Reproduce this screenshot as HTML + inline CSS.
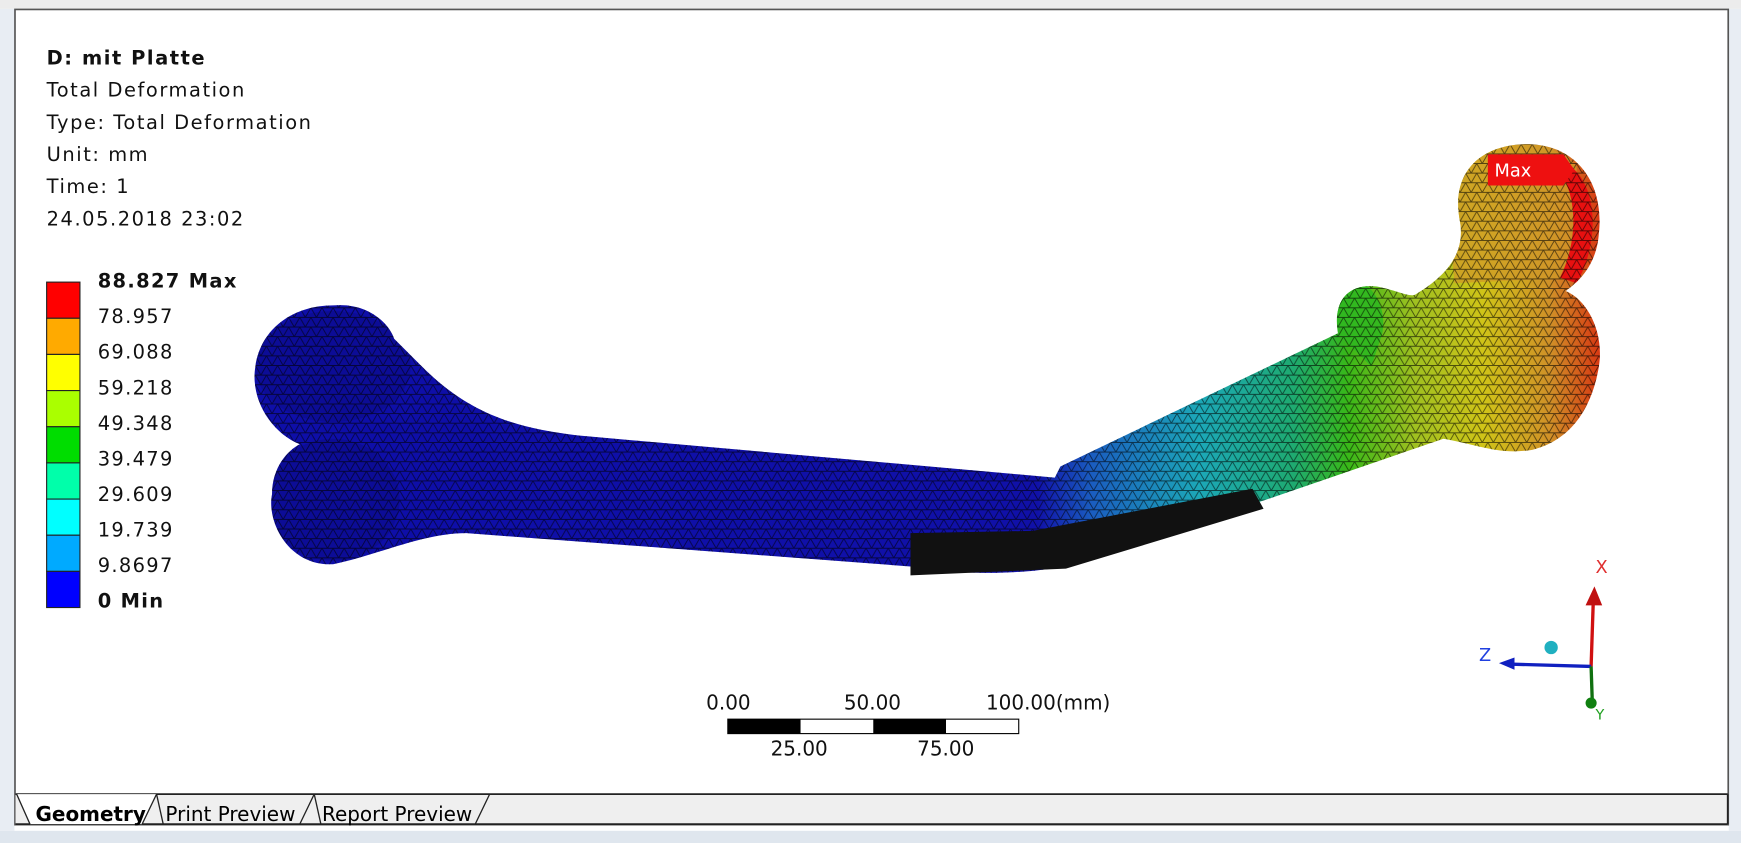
<!DOCTYPE html>
<html><head><meta charset="utf-8">
<style>
html,body{margin:0;padding:0;background:#fff;width:1741px;height:843px;overflow:hidden}
svg{display:block}
text{font-family:"DejaVu Sans","Liberation Sans",sans-serif}
</style></head>
<body>
<svg width="1741" height="843" viewBox="0 0 1568 759" preserveAspectRatio="none">
<defs>
 <linearGradient id="boneGrad" gradientUnits="userSpaceOnUse" x1="228" y1="0" x2="1445" y2="0">
  <stop offset="0" stop-color="#0e0ea8"/>
  <stop offset="0.58" stop-color="#1010a8"/>
  <stop offset="0.62" stop-color="#1a5cc0"/>
  <stop offset="0.70" stop-color="#1ca8b8"/>
  <stop offset="0.77" stop-color="#1eaa70"/>
  <stop offset="0.81" stop-color="#38b818"/>
  <stop offset="0.86" stop-color="#a0c020"/>
  <stop offset="0.91" stop-color="#d0c418"/>
  <stop offset="0.96" stop-color="#d09028"/>
  <stop offset="1" stop-color="#d83010"/>
 </linearGradient>
 <pattern id="mesh" patternUnits="userSpaceOnUse" width="10" height="8.66">
  <path d="M0 0H10M0 8.66H10M0 0L5 8.66M10 0L5 8.66M5 8.66L0 17M5 8.66L10 17" stroke="#000" stroke-width="0.8" stroke-opacity="0.6" fill="none"/>
 </pattern>
 <clipPath id="boneClip"><path d="M300,275 C330,272 350,290 355,305 L380,330 C420,370 460,385 520,392 L950,430 L955,420 L1205,300 C1200,270 1215,255 1240,258 C1260,262 1270,268 1275,265 C1300,250 1320,230 1315,200 C1305,150 1340,128 1380,130 C1420,132 1445,165 1440,210 C1438,240 1420,255 1410,262 C1430,270 1445,300 1440,330 C1435,360 1420,395 1380,405 C1350,410 1330,400 1300,395 L1140,450 L960,510 C900,520 850,515 820,510 L420,480 C380,480 340,500 300,508 C260,510 240,470 245,445 C245,420 260,405 270,400 C245,390 225,360 230,330 C235,295 265,275 300,275 Z"/></clipPath>
</defs>

<rect x="0" y="0" width="1568" height="759" fill="#fff"/>
<rect x="0" y="0" width="1568" height="8" fill="#ececec"/>
<rect x="0" y="748" width="1568" height="11" fill="#dfe6ee"/>
<rect x="0" y="8" width="13" height="740" fill="#e8edf3"/>
<rect x="1557" y="8" width="11" height="740" fill="#e8edf3"/>
<rect x="13.5" y="8.5" width="1543" height="734" fill="none" stroke="#555" stroke-width="1.5"/>

<g font-size="17.5" fill="#111" letter-spacing="1.4">
 <text x="42" y="58" font-weight="bold">D: mit Platte</text>
 <text x="42" y="87">Total Deformation</text>
 <text x="42" y="116">Type: Total Deformation</text>
 <text x="42" y="145">Unit: mm</text>
 <text x="42" y="174">Time: 1</text>
 <text x="42" y="203">24.05.2018 23:02</text>
</g>

<g id="legend"></g>

<g>
 <path d="M300,275 C330,272 350,290 355,305 L380,330 C420,370 460,385 520,392 L950,430 L955,420 L1205,300 C1200,270 1215,255 1240,258 C1260,262 1270,268 1275,265 C1300,250 1320,230 1315,200 C1305,150 1340,128 1380,130 C1420,132 1445,165 1440,210 C1438,240 1420,255 1410,262 C1430,270 1445,300 1440,330 C1435,360 1420,395 1380,405 C1350,410 1330,400 1300,395 L1140,450 L960,510 C900,520 850,515 820,510 L420,480 C380,480 340,500 300,508 C260,510 240,470 245,445 C245,420 260,405 270,400 C245,390 225,360 230,330 C235,295 265,275 300,275 Z" fill="url(#boneGrad)"/>
 <g clip-path="url(#boneClip)">
  <path d="M1200,250 C1230,245 1250,270 1245,300 L1235,330 L1205,300 Z" fill="#30b820" opacity="0.9"/>
  <path d="M1300,140 C1340,120 1400,125 1420,150 L1420,250 L1310,255 Z" fill="#d09a28" opacity="0.75"/>
  <path d="M1415,150 C1440,170 1440,220 1420,255 L1405,250 C1420,220 1422,180 1405,155 Z" fill="#e81010"/>
  <rect x="0" y="0" width="1568" height="759" fill="url(#mesh)"/>
  <ellipse cx="300" cy="330" rx="70" ry="50" fill="#000" opacity="0.1"/>
  <ellipse cx="300" cy="450" rx="60" ry="55" fill="#000" opacity="0.1"/>
 </g>
 <path d="M820,480 L930,478 L1128,440 L1138,458 L960,512 L820,518 Z" fill="#111"/>
</g>

<g>
 <path d="M1340,139 L1408,139 L1418,153 L1408,167 L1340,167 Z" fill="#ee1010"/>
 <text x="1346" y="159" font-size="16" fill="#fff" font-family="Liberation Sans, sans-serif">Max</text>
</g>

<g font-family="Liberation Sans, sans-serif" font-size="18" fill="#111">
 <rect x="655.5" y="647.5" width="262" height="13" fill="#fff" stroke="#000"/>
 <rect x="655.5" y="647.5" width="65.5" height="13" fill="#000"/>
 <rect x="786.5" y="647.5" width="65.5" height="13" fill="#000"/>
 <text x="636" y="639">0.00</text>
 <text x="760" y="639">50.00</text>
 <text x="888" y="639">100.00(mm)</text>
 <text x="694" y="680">25.00</text>
 <text x="826" y="680">75.00</text>
</g>

<g font-family="Liberation Sans, sans-serif" font-size="16">
 <line x1="1433" y1="600" x2="1435" y2="540" stroke="#d01010" stroke-width="3"/>
 <path d="M1428,545 L1436,528 L1443,545 Z" fill="#c01010"/>
 <text x="1437" y="516" fill="#e03030">X</text>
 <line x1="1433" y1="600" x2="1362" y2="598" stroke="#1020c0" stroke-width="3"/>
 <path d="M1364,592 L1350,597 L1364,603 Z" fill="#1020c0"/>
 <text x="1332" y="595" fill="#2040e0">Z</text>
 <line x1="1433" y1="600" x2="1434" y2="630" stroke="#107010" stroke-width="3"/>
 <circle cx="1433" cy="633" r="5" fill="#108010"/>
 <text x="1437" y="648" fill="#20a020" font-size="13">Y</text>
 <circle cx="1397" cy="583" r="6" fill="#20b0c0"/>
</g>

<g>
 <rect x="14" y="715" width="1542" height="27" fill="#efefef"/>
 <line x1="14" y1="715" x2="1556" y2="715" stroke="#222" stroke-width="1.5"/>
 <line x1="14" y1="742" x2="1556" y2="742" stroke="#222" stroke-width="1.5"/>
 <line x1="1556" y1="715" x2="1556" y2="742" stroke="#222" stroke-width="1.5"/>
 <path d="M15,715 L27,742 L128,742 L141,715 Z" fill="#fff"/>
 <path d="M15,715 L27,742 M128,742 L141,715 M141,715 L147,742 M270,742 L283,715 M283,715 L289,742 M428,742 L441,715" fill="none" stroke="#222" stroke-width="1.2"/>
 <text x="32" y="739" font-size="18" font-weight="bold" fill="#000">Geometry</text>
 <text x="149" y="739" font-size="18" fill="#000">Print Preview</text>
 <text x="290" y="739" font-size="18" fill="#000">Report Preview</text>
</g>
</svg>
<script>
const legendLabels = ["88.827 Max","78.957","69.088","59.218","49.348","39.479","29.609","19.739","9.8697","0 Min"];
const legendColors = ["#ff0000","#ffaa00","#ffff00","#aaff00","#00dd00","#00ffaa","#00ffff","#00aaff","#0000ff"];
const NS = "http://www.w3.org/2000/svg";
const g = document.getElementById('legend');
const top0 = 254, bot0 = 547, bx = 42, bw = 30;
const seg = (bot0 - top0) / legendColors.length;
legendColors.forEach((c, i) => {
  const r = document.createElementNS(NS, 'rect');
  r.setAttribute('x', bx); r.setAttribute('y', top0 + i * seg);
  r.setAttribute('width', bw); r.setAttribute('height', seg);
  r.setAttribute('fill', c); r.setAttribute('stroke', '#222'); r.setAttribute('stroke-width', '1');
  
  
  g.appendChild(r);
});
const lstep = (541 - 253) / (legendLabels.length - 1);
legendLabels.forEach((t, i) => {
  const tx = document.createElementNS(NS, 'text');
  tx.setAttribute('x', 88); tx.setAttribute('y', 253 + i * lstep + 6);
  tx.setAttribute('font-size', '17.5'); tx.setAttribute('fill', '#111');
  tx.setAttribute('letter-spacing', '1.2');
  if (i === 0 || i === legendLabels.length - 1) tx.setAttribute('font-weight', 'bold');
  tx.textContent = t;
  
  
  g.appendChild(tx);
});
</script>
</body></html>
